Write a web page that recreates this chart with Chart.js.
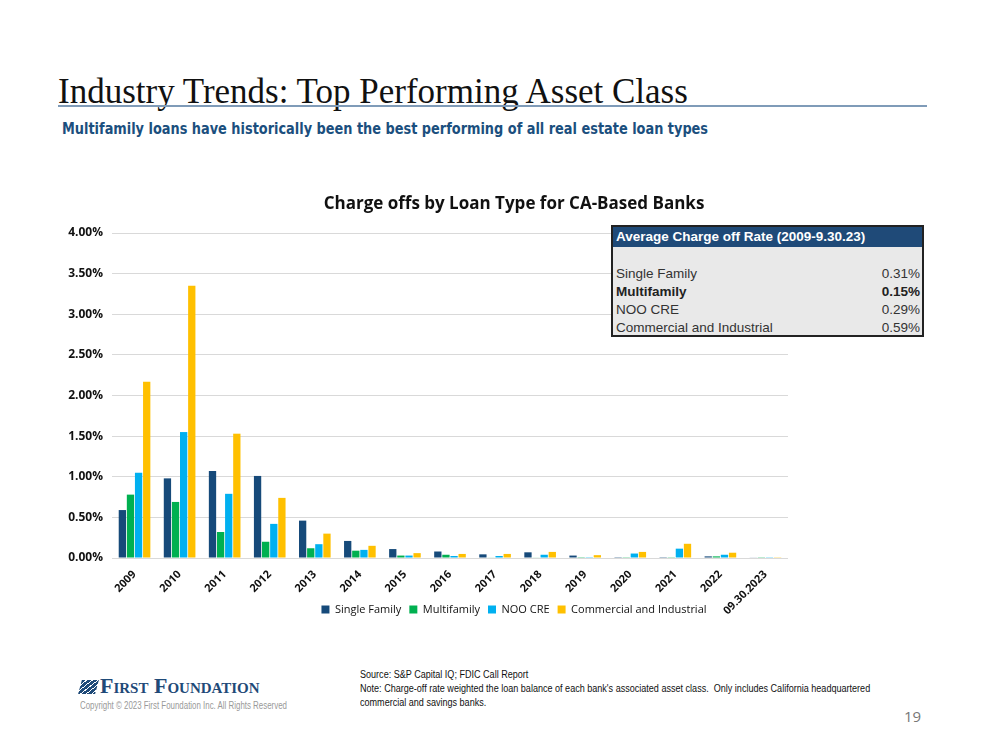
<!DOCTYPE html>
<html>
<head>
<meta charset="utf-8">
<script src="https://cdn.jsdelivr.net/npm/chart.js@4.4.0/dist/chart.umd.min.js"></script>
<style>
  body { margin: 0; width: 999px; height: 750px; background: #fff; position: relative; overflow: hidden; font-family: "Open Sans", sans-serif; }
  .pgtitle { position: absolute; left: 58px; top: 72px; font-family: "Liberation Serif", serif; font-size: 35px; color: #111; white-space: nowrap; }
  .rule { position: absolute; left: 58px; top: 105px; width: 869px; height: 2px; background: #7f9bb8; }
  .sub { position: absolute; left: 62px; top: 119px; font-family: "DejaVu Sans Condensed", sans-serif; font-weight: bold; font-size: 16px; color: #1b4f7e; white-space: nowrap; transform: scaleX(0.896); transform-origin: left top; }
  #wrap { position: absolute; left: 60px; top: 186px; width: 908px; height: 463px; }
  .tbl { position: absolute; left: 611px; top: 225px; width: 309px; height: 108px; border: 2px solid #222; background: #e9e9e9; font-family: "Liberation Sans", Arial, sans-serif; font-size: 13.5px; color: #333; }
  .tbl .hd { background: #1f4a78; color: #fff; font-weight: bold; height: 20px; line-height: 20px; padding-left: 3px; }
  .tbl .row { height: 18px; line-height: 18px; padding: 0 2px 0 3px; display: flex; justify-content: space-between; }
  .logo { position: absolute; left: 80px; top: 673px; font-family: "Liberation Serif", serif; font-weight: bold; font-size: 22px; color: #1f4a78; font-variant: small-caps; white-space: nowrap; }
  .logo i { display: inline-block; width: 17px; height: 14px; margin-right: 3px; vertical-align: -1px; background: repeating-linear-gradient(135deg, #1f4a78 0 3px, #fff 3px 4px); transform: skewX(-15deg); }
  .copy { position: absolute; left: 80px; top: 700px; font-family: "Liberation Sans", sans-serif; font-size: 10px; color: #999; white-space: nowrap; transform: scaleX(0.79); transform-origin: left top; }
  .note { position: absolute; left: 360px; top: 668px; font-family: "Liberation Sans", sans-serif; font-size: 10px; color: #111; line-height: 14px; white-space: nowrap; transform: scaleX(0.905); transform-origin: left top; }
  .pnum { position: absolute; left: 904px; top: 706px; font-family: "Open Sans", sans-serif; font-size: 15px; color: #777; }
</style>
</head>
<body>
<div class="pgtitle">Industry Trends: Top Performing Asset Class</div>
<div class="rule"></div>
<div class="sub">Multifamily loans have historically been the best performing of all real estate loan types</div>
<div id="wrap"><canvas id="chart"></canvas></div>
<div class="tbl">
  <div class="hd">Average Charge off Rate (2009-9.30.23)</div>
  <div class="row"></div>
  <div class="row"><span>Single Family</span><span>0.31%</span></div>
  <div class="row" style="font-weight:bold;color:#222"><span>Multifamily</span><span>0.15%</span></div>
  <div class="row"><span>NOO CRE</span><span>0.29%</span></div>
  <div class="row"><span>Commercial and Industrial</span><span>0.59%</span></div>
</div>
<div class="logo"><i></i>First Foundation</div>
<div class="copy">Copyright © 2023 First Foundation Inc. All Rights Reserved</div>
<div class="note">Source: S&amp;P Capital IQ; FDIC Call Report<br>Note: Charge-off rate weighted the loan balance of each bank's associated asset class.&nbsp; Only includes California headquartered<br>commercial and savings banks.</div>
<div class="pnum">19</div>
<script>
const years = ['2009', '2010', '2011', '2012', '2013', '2014', '2015', '2016', '2017', '2018', '2019', '2020', '2021', '2022', '09.30.2023'];

// charge-off rates in %
const singleFamily = [0.59, 0.98, 1.07, 1.01, 0.46, 0.21, 0.11, 0.08, 0.045, 0.07, 0.03, 0.01, 0.01, 0.02, 0.005];
const multifamily  = [0.78, 0.69, 0.32, 0.20, 0.12, 0.09, 0.03, 0.04, 0.005, 0.005, 0.01, 0.003, 0.003, 0.02, 0.003];
const nooCre       = [1.05, 1.55, 0.79, 0.42, 0.17, 0.10, 0.03, 0.025, 0.025, 0.04, 0.01, 0.055, 0.115, 0.04, 0.003];
const commInd      = [2.17, 3.35, 1.53, 0.74, 0.30, 0.15, 0.06, 0.05, 0.05, 0.075, 0.035, 0.075, 0.175, 0.065, 0.003];

const yTicks = [0, 0.5, 1, 1.5, 2, 2.5, 3, 3.5, 4];

// legend sits up inside the rotated-label band, like the original
const liftLegend = {
    id: 'liftLegend',
    afterLayout(chart) {
        chart.legend.top -= 24;
        chart.legend.bottom -= 24;
    }
};

const ctx = document.getElementById('chart');

new Chart(ctx, {
    type: 'bar',
    data: {
        labels: years,
        datasets: [
            { label: 'Single Family', data: singleFamily, backgroundColor: '#164a7a' },
            { label: 'Multifamily', data: multifamily, backgroundColor: '#00b050' },
            { label: 'NOO CRE', data: nooCre, backgroundColor: '#00b0f0' },
            { label: 'Commercial and Industrial', data: commInd, backgroundColor: '#ffc000' }
        ]
    },
    plugins: [liftLegend],
    options: {
        responsive: true,
        maintainAspectRatio: false,
        animation: false,
        layout: { padding: 0 },
        datasets: { bar: { categoryPercentage: 0.72, barPercentage: 0.9 } },
        plugins: {
            title: {
                display: true,
                text: 'Charge offs by Loan Type for CA-Based Banks',
                color: '#111',
                font: { family: 'Open Sans', size: 17, weight: 'bold' },
                padding: { top: 8, bottom: 18.6 }
            },
            legend: {
                position: 'bottom',
                labels: { boxWidth: 8, boxHeight: 8, padding: 8, color: '#111', font: { family: 'Open Sans', size: 11 } }
            },
            tooltip: { enabled: false }
        },
        scales: {
            x: {
                grid: { display: false },
                border: { display: false },
                ticks: {
                    minRotation: 45, maxRotation: 45, padding: 2, color: '#111',
                    font: { family: 'Open Sans', size: 11, weight: 'bold' }
                },
                afterFit: s => { s.height = 62; }
            },
            y: {
                min: 0, max: 4,
                afterFit: s => { s.width = 52; },
                afterBuildTicks: s => { s.ticks = yTicks.map(v => ({ value: v })); },
                grid: { color: '#d9d9d9', drawTicks: false },
                border: { display: false },
                ticks: {
                    padding: 9, color: '#111',
                    font: { family: 'Open Sans', size: 12, weight: 'bold' },
                    callback: v => v.toFixed(2) + '%'
                }
            },
            y2: {
                position: 'right',
                grid: { display: false },
                border: { display: false },
                ticks: { display: false },
                afterFit: s => { s.width = 180; }
            }
        }
    }
});
</script>
</body>
</html>
